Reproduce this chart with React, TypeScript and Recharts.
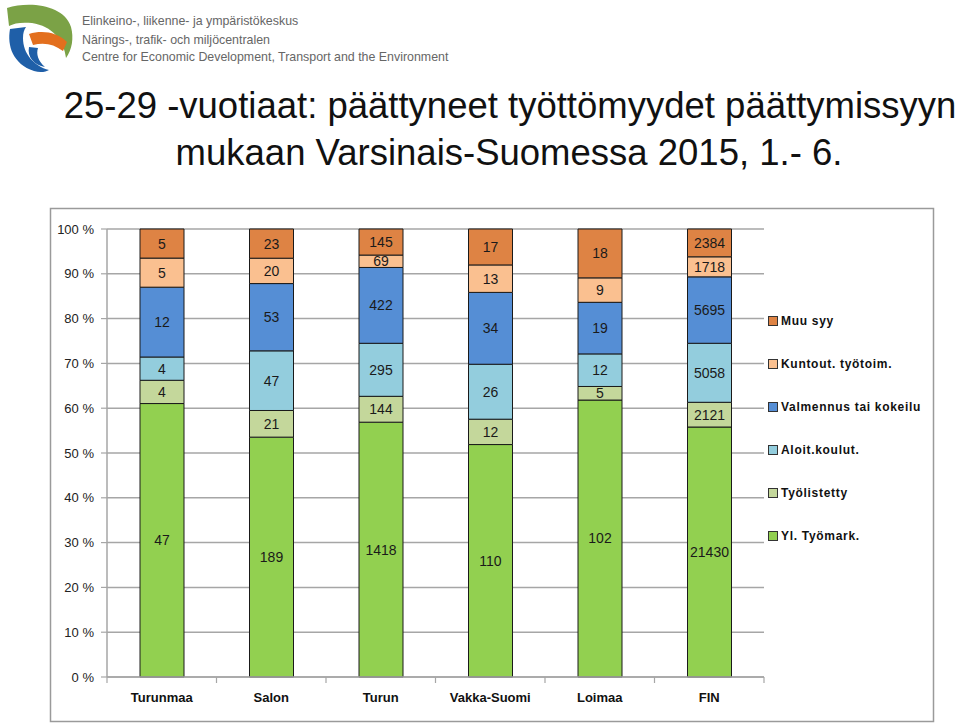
import { BarChart, Bar, XAxis, YAxis, CartesianGrid, LabelList, Legend } from 'recharts';

const categories = ['Turunmaa', 'Salon', 'Turun', 'Vakka-Suomi', 'Loimaa', 'FIN'];
const ylTyomark = [47, 189, 1418, 110, 102, 21430];
const tyolistetty = [4, 21, 144, 12, 5, 2121];
const aloitKoulut = [4, 47, 295, 26, 12, 5058];
const valmennus = [12, 53, 422, 34, 19, 5695];
const kuntout = [5, 20, 69, 13, 9, 1718];
const muuSyy = [5, 23, 145, 17, 18, 2384];
const yTicks = [0, 0.1, 0.2, 0.3, 0.4, 0.5, 0.6, 0.7, 0.8, 0.9, 1];

// bottom to top
const series = [
  { key: 'yl', name: 'Yl. Työmark.', color: '#92D050', values: ylTyomark },
  { key: 'tyolist', name: 'Työlistetty', color: '#C4D79B', values: tyolistetty },
  { key: 'aloit', name: 'Aloit.koulut.', color: '#93CDDD', values: aloitKoulut },
  { key: 'valm', name: 'Valmennus tai kokeilu', color: '#558ED5', values: valmennus },
  { key: 'kuntout', name: 'Kuntout. työtoim.', color: '#FAC090', values: kuntout },
  { key: 'muu', name: 'Muu syy', color: '#DE8344', values: muuSyy },
];

const data = categories.map((name, i) => {
  const row: Record<string, string | number> = { name };
  series.forEach((s) => {
    row[s.key] = s.values[i];
  });
  return row;
});

const font = "'Liberation Sans', Arial, sans-serif";
const gridColor = '#A6A6A6';

const CategoryTick = (props: any) => {
  const { x, y, payload, index, width } = props;
  const half = payload?.offset ?? width / categories.length / 2;
  return (
    <g>
      <line x1={x - half} x2={x - half} y1={y} y2={y + 6} stroke={gridColor} strokeWidth={1.2} />
      {index === categories.length - 1 && (
        <line x1={x + half} x2={x + half} y1={y} y2={y + 6} stroke={gridColor} strokeWidth={1.2} />
      )}
      <text x={x} y={y + 25} textAnchor="middle" fontSize={13} fontWeight="bold" fill="#111" fontFamily={font}>
        {payload.value}
      </text>
    </g>
  );
};

const LegendBox = () => (
  <div style={{ display: 'flex', flexDirection: 'column', fontFamily: font }}>
    {[...series].reverse().map((s) => (
      <div key={s.key} style={{ height: 43, display: 'flex', alignItems: 'center' }}>
        <span
          style={{
            width: 8,
            height: 8,
            background: s.color,
            border: '1px solid #333',
            marginRight: 3,
            display: 'inline-block',
          }}
        />
        <span style={{ fontSize: 12, fontWeight: 'bold', letterSpacing: 0.7, color: '#111', whiteSpace: 'nowrap' }}>
          {s.name}
        </span>
      </div>
    ))}
  </div>
);

const Logo = () => (
  <g>
    <path d="M7 8 C30 1 64 5 71 27 C74 38 72 50 66 58 C64 40 52 26 32 23 C22 22 14 23 9 26 Z" fill="#7BA246" />
    <path d="M10 29 C7 46 13 64 34 71 C40 73 46 72 49 70 C34 66 23 54 23 38 C23 33 24 30 26 27 Z" fill="#1F5FA8" />
    <path d="M29 34 C42 30 57 32 67 42 L63 51 C54 44 44 42 33 45 Z" fill="#E36F1E" />
    <path d="M29 47 C27 57 34 65 45 67 C38 61 36 54 38 48 Z" fill="#1F5FA8" />
    <text x={82} y={25} fontSize={12.4} fill="#666" fontFamily={font}>Elinkeino-, liikenne- ja ympäristökeskus</text>
    <text x={82} y={44} fontSize={12.4} fill="#666" fontFamily={font}>Närings-, trafik- och miljöcentralen</text>
    <text x={82} y={61} fontSize={12.4} fill="#666" fontFamily={font}>Centre for Economic Development, Transport and the Environment</text>
  </g>
);

export default function App() {
  return (
    <div style={{ position: 'absolute', left: 0, top: 0, width: 959, height: 724, background: '#fff' }}>
      <svg width={959} height={724} style={{ position: 'absolute', left: 0, top: 0 }}>
        <Logo />
        <text x={510} y={118} textAnchor="middle" fontSize={36.5} fill="#111" fontFamily={font}>
          25-29 -vuotiaat:  päättyneet työttömyydet päättymissyyn
        </text>
        <text x={509} y={165} textAnchor="middle" fontSize={36.5} fill="#111" fontFamily={font}>
          mukaan Varsinais-Suomessa 2015, 1.- 6.
        </text>
        <rect x={50.5} y={208.5} width={883} height={513} fill="none" stroke="#9A9A9A" strokeWidth={1.5} />
      </svg>
      <div style={{ position: 'absolute', left: 0, top: 0 }}>
        <BarChart
          width={959}
          height={724}
          data={data}
          stackOffset="expand"
          margin={{ top: 229, right: 195, bottom: 17, left: 49 }}
        >
          <CartesianGrid vertical={false} stroke={gridColor} strokeWidth={1.5} />
          <XAxis
            dataKey="name"
            height={30}
            tickLine={false}
            tickSize={0}
            tickMargin={0}
            axisLine={{ stroke: gridColor, strokeWidth: 1.5 }}
            tick={<CategoryTick />}
            interval={0}
          />
          <YAxis
            width={58}
            domain={[0, 1]}
            ticks={yTicks}
            tickFormatter={(v: number) => `${Math.round(v * 100)} %`}
            tickSize={6}
            tickMargin={7}
            tickLine={{ stroke: gridColor, strokeWidth: 1.2 }}
            axisLine={{ stroke: gridColor, strokeWidth: 1.5 }}
            tick={{ fontSize: 13, fill: '#222', fontFamily: font }}
          />
          <Legend
            layout="vertical"
            align="center"
            verticalAlign="middle"
            content={() => <LegendBox />}
            wrapperStyle={{ position: 'absolute', left: 768, top: 299, width: 180 }}
          />
          {series.map((s) => (
            <Bar
              key={s.key}
              dataKey={s.key}
              name={s.name}
              stackId="a"
              fill={s.color}
              stroke="#1a1a1a"
              strokeWidth={1}
              barSize={44}
              isAnimationActive={false}
            >
              <LabelList dataKey={s.key} position="center" fontSize={14} fill="#1a1a1a" fontFamily={font} />
            </Bar>
          ))}
        </BarChart>
      </div>
    </div>
  );
}
